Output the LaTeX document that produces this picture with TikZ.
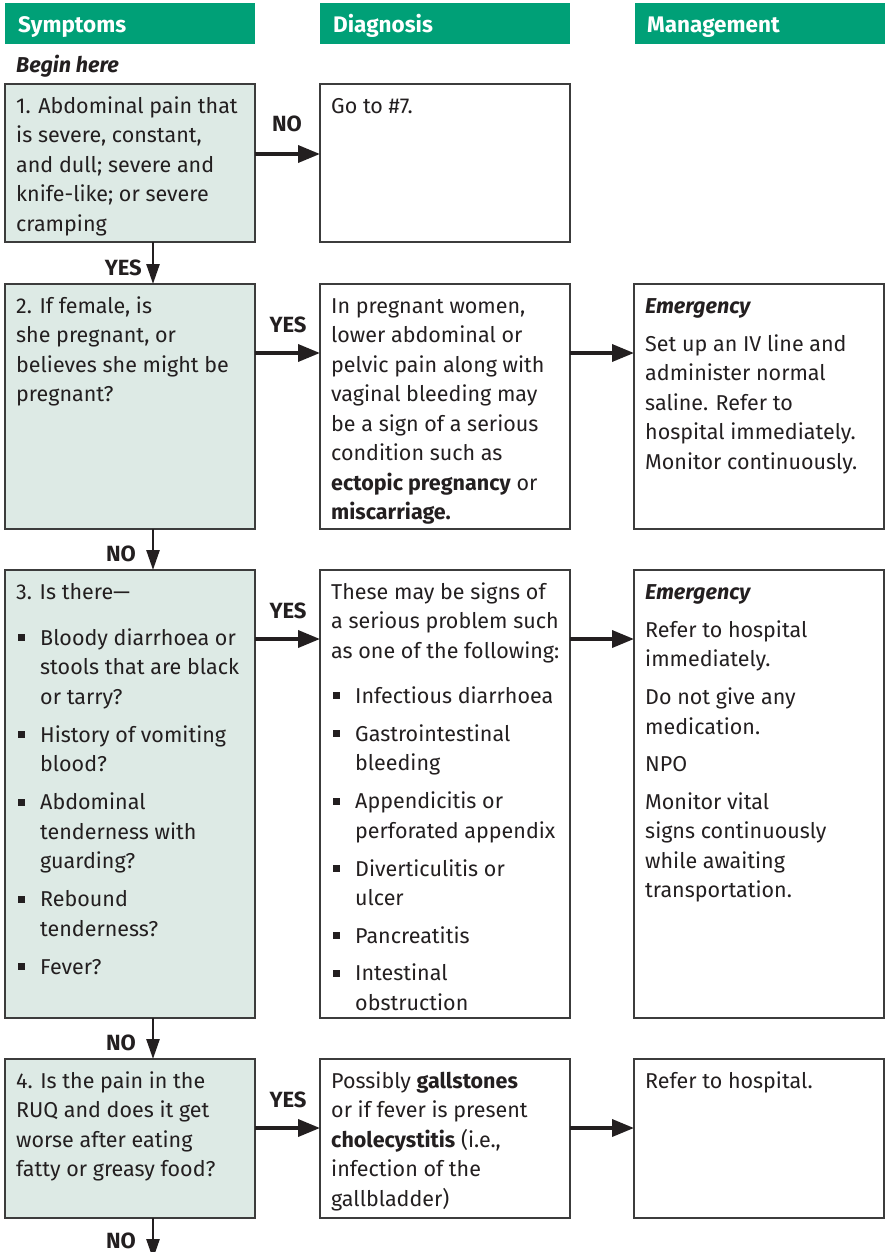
\documentclass[tikz,border=0pt]{standalone}
\usepackage{fontspec}
\setmainfont{Fira Sans}
\usetikzlibrary{arrows.meta,calc}
\definecolor{hdr}{HTML}{00A077}
\definecolor{pale}{HTML}{DDEAE5}
\definecolor{ink}{HTML}{231F20}
\definecolor{edge}{HTML}{3C3C3C}
% invisible strut fixing the first baseline of each text block
\newcommand\fstrut{\rule{0pt}{20pt}}
% square bullet and hanging indent for list lines
\newcommand\bsq{\makebox[24pt][l]{\hspace{2pt}\raisebox{4pt}{\rule{7pt}{7pt}}}}
\newcommand\ind{\hspace*{24pt}}
\newcommand\emer{\textbf{\textit{Emergency}}}
\begin{document}
\begin{tikzpicture}[x=1pt,y=-1pt,
  hdrbox/.style={fill=hdr, minimum width=250pt, minimum height=41pt, anchor=north west, inner sep=0, outer sep=0},
  hdrtext/.style={text=white, font=\fontsize{22.5}{26}\selectfont\bfseries, anchor=base west, inner sep=0},
  box/.style={draw=edge, line width=1.3pt, anchor=north west, inner sep=0, outer sep=0, minimum width=250pt},
  qbox/.style={box, fill=pale},
  txt/.style={anchor=north west, inner sep=0, align=left, text=ink, font=\fontsize{21.5}{29.5}\selectfont},
  lbl/.style={font=\fontsize{22}{26}\selectfont\bfseries, text=ink, inner sep=0},
  hflow/.style={draw=ink, line width=3.6pt, -{Triangle[length=22pt,width=17pt]}},
  vflow/.style={draw=ink, line width=2.6pt, -{Triangle[length=20pt,width=13pt]}},
]
\useasboundingbox (0,0) rectangle (886,1252);
\clip (0,0) rectangle (886,1252);

% column headers
\node[hdrbox] (h1) at (5,3) {};
\node[hdrtext] (h1t) at (18,33) {Symptoms};
\node[hdrbox] (h2) at (320,3) {};
\node[hdrtext] (h2t) at (333,33) {Diagnosis};
\node[hdrbox] (h3) at (635,3) {};
\node[hdrtext] (h3t) at (647,33) {Management};

\node[anchor=base west, inner sep=0, text=ink, font=\fontsize{21.5}{25}\selectfont\bfseries\itshape] (start) at (16,73) {Begin here};

% row 1
\node[qbox, minimum height=158pt] (s1) at (5,84) {};
\node[box, minimum height=158pt] (d1) at (320,84) {};
\node[txt] (s1t) at ($(s1.north west)+(11,9)$) {\fstrut 1. Abdominal pain that\\ is severe, constant,\\ and dull; severe and\\ knife-like; or severe\\ cramping};
\node[txt] (d1t) at ($(d1.north west)+(11,9)$) {\fstrut Go to \#7.};
\draw[hflow] ($(s1.north east)+(0,70)$) -- ($(d1.north west)+(0,70)$);
\node[lbl, anchor=base] (l1) at (287,132) {NO};

% row 2
\node[qbox, minimum height=245pt] (s2) at (5,284) {};
\node[box, minimum height=245pt] (d2) at (320,284) {};
\node[box, minimum height=245pt] (m2) at (634,284) {};
\node[txt] (s2t) at ($(s2.north west)+(11,9)$) {\fstrut 2. If female, is\\ she pregnant, or\\ believes she might be\\ pregnant?};
\node[txt] (d2t) at ($(d2.north west)+(11,9)$) {\fstrut In pregnant women,\\ lower abdominal or\\ pelvic pain along with\\ vaginal bleeding may\\ be a sign of a serious\\ condition such as\\ \textbf{ectopic pregnancy} or\\ \textbf{miscarriage.}};
\node[txt] (m2t) at ($(m2.north west)+(11,9)$) {\fstrut \emer\\[8.5pt] Set up an IV line and\\ administer normal\\ saline. Refer to\\ hospital immediately.\\ Monitor continuously.};
\draw[vflow] ($(s1.south west)+(148,0)$) -- ($(s2.north west)+(148,0)$);
\node[lbl, anchor=base east] (l2) at (142,275) {YES};
\draw[hflow] ($(s2.north east)+(0,69)$) -- ($(d2.north west)+(0,69)$);
\draw[hflow] ($(d2.north east)+(0,69)$) -- ($(m2.north west)+(0,69)$);
\node[lbl, anchor=base] (l3) at (288,332) {YES};

% row 3
\node[qbox, minimum height=448pt] (s3) at (5,570) {};
\node[box, minimum height=448pt] (d3) at (320,570) {};
\node[box, minimum height=448pt] (m3) at (634,570) {};
\node[txt] (s3t) at ($(s3.north west)+(11,9)$) {\fstrut 3. Is there—\\[16.5pt]
  \bsq Bloody diarrhoea or\\ \ind stools that are black\\ \ind or tarry?\\[8.5pt]
  \bsq History of vomiting\\ \ind blood?\\[8.5pt]
  \bsq Abdominal\\ \ind tenderness with\\ \ind guarding?\\[8.5pt]
  \bsq Rebound\\ \ind tenderness?\\[8.5pt]
  \bsq Fever?};
\node[txt] (d3t) at ($(d3.north west)+(11,9)$) {\fstrut These may be signs of\\ a serious problem such\\ as one of the following:\\[15.5pt]
  \bsq Infectious diarrhoea\\[8.5pt]
  \bsq Gastrointestinal\\ \ind bleeding\\[8.5pt]
  \bsq Appendicitis or\\ \ind perforated appendix\\[8.5pt]
  \bsq Diverticulitis or\\ \ind ulcer\\[8pt]
  \bsq Pancreatitis\\[8pt]
  \bsq Intestinal\\ \ind obstruction};
\node[txt] (m3t) at ($(m3.north west)+(11,9)$) {\fstrut \emer\\[8.5pt] Refer to hospital\\ immediately.\\[8.5pt] Do not give any\\ medication.\\[8pt] NPO\\[8pt] Monitor vital\\ signs continuously\\ while awaiting\\ transportation.};
\draw[vflow] ($(s2.south west)+(148,0)$) -- ($(s3.north west)+(148,0)$);
\node[lbl, anchor=base east] (l4) at (136,561) {NO};
\draw[hflow] ($(s3.north east)+(0,69)$) -- ($(d3.north west)+(0,69)$);
\draw[hflow] ($(d3.north east)+(0,69)$) -- ($(m3.north west)+(0,69)$);
\node[lbl, anchor=base] (l5) at (288,618) {YES};

% row 4
\node[qbox, minimum height=159pt] (s4) at (5,1059) {};
\node[box, minimum height=159pt] (d4) at (320,1059) {};
\node[box, minimum height=159pt] (m4) at (634,1059) {};
\node[txt] (s4t) at ($(s4.north west)+(11,9)$) {\fstrut 4. Is the pain in the\\ RUQ and does it get\\ worse after eating\\ fatty or greasy food?};
\node[txt] (d4t) at ($(d4.north west)+(11,9)$) {\fstrut Possibly \textbf{gallstones}\\ or if fever is present\\ \textbf{cholecystitis} (i.e.,\\ infection of the\\ gallbladder)};
\node[txt] (m4t) at ($(m4.north west)+(11,9)$) {\fstrut Refer to hospital.};
\draw[vflow] ($(s3.south west)+(148,0)$) -- ($(s4.north west)+(148,0)$);
\node[lbl, anchor=base east] (l6) at (136,1050) {NO};
\draw[hflow] ($(s4.north east)+(0,69)$) -- ($(d4.north west)+(0,69)$);
\draw[hflow] ($(d4.north east)+(0,69)$) -- ($(m4.north west)+(0,69)$);
\node[lbl, anchor=base] (l7) at (288,1107) {YES};

% exit towards the next question
\coordinate (next) at ($(s4.south west)+(148,41)$);
\draw[vflow] ($(s4.south west)+(148,0)$) -- (next);
\node[lbl, anchor=base east] (l8) at (136,1248) {NO};
\end{tikzpicture}
\end{document}
